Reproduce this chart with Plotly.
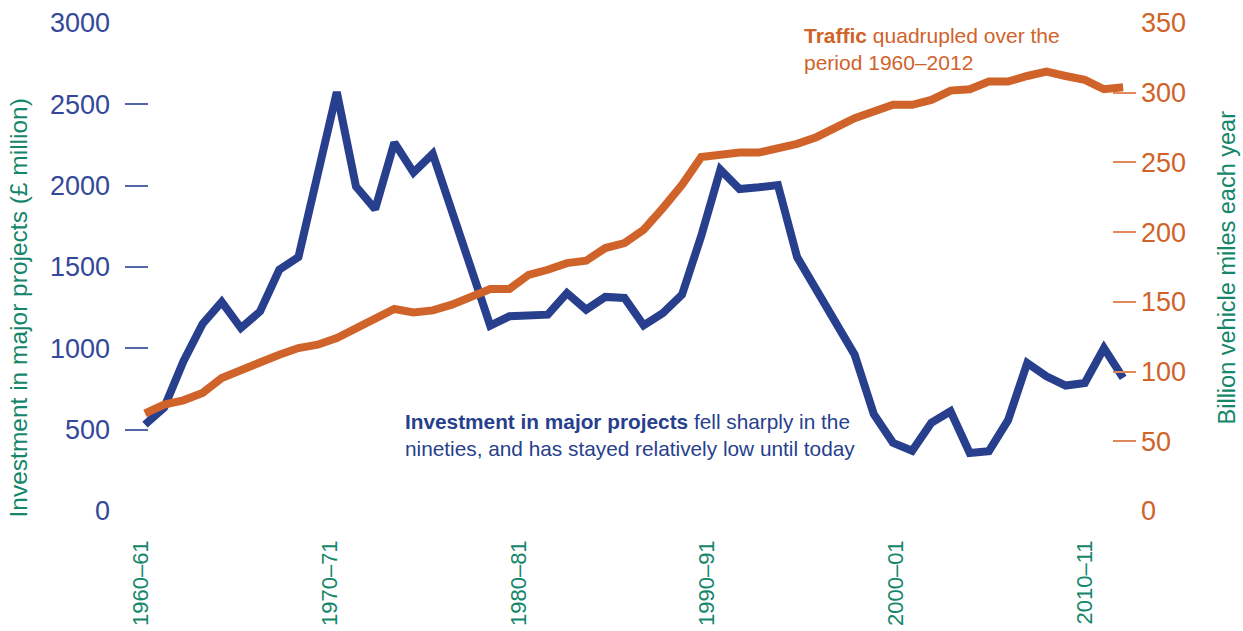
import plotly.graph_objects as go

# Financial years 1960-61 .. 2011-12 (start year)
years = list(range(1960, 2012))

investment = [531, 636, 920, 1150, 1285, 1125, 1227, 1483, 1561, 2087,
              2575, 1995, 1856, 2265, 2081, 2196, 1846, 1496, 1140, 1197,
              1202, 1207, 1340, 1238, 1316, 1310, 1141, 1217, 1330, 1690,
              2098, 1979, 1990, 2004, 1561, 1361, 1161, 961, 595, 419,
              370, 542, 613, 357, 368, 558, 910, 828, 771, 787,
              1002, 818]

traffic = [70.0, 76.3, 79.4, 84.7, 95.4, 101.4, 107.3, 112.1, 116.9, 119.3,
           124.1, 131.3, 137.2, 144.9, 142.4, 143.9, 148.0, 154.0, 159.2, 159.2,
           169.4, 173.0, 177.8, 179.5, 188.6, 192.2, 201.7, 217.2, 233.9, 253.8,
           256.1, 257.1, 257.1, 260.2, 263.3, 268.1, 275.7, 281.7, 286.5, 291.3,
           291.3, 294.8, 301.5, 302.5, 308.0, 308.0, 312.0, 315.1, 312.0, 309.2,
           302.5, 303.9]

tick_labels = ["1960–61", "1970–71", "1980–81", "1990–91", "2000–01", "2010–11"]
tick_positions = [1959.8, 1969.64, 1979.48, 1989.32, 1999.16, 2009.0]

left_ticks = [0, 500, 1000, 1500, 2000, 2500, 3000]
right_ticks = [0, 50, 100, 150, 200, 250, 300, 350]

BLUE = "#273f8c"
ORANGE = "#d0632a"
GREEN = "#14866a"
FONT = "Liberation Sans"

fig = go.Figure()
fig.add_trace(go.Scatter(x=years, y=traffic, yaxis="y2", mode="lines",
                         line=dict(color=ORANGE, width=8), name="Traffic",
                         hoverinfo="x+y"))
fig.add_trace(go.Scatter(x=years, y=investment, yaxis="y", mode="lines",
                         line=dict(color=BLUE, width=8), name="Investment",
                         hoverinfo="x+y"))

fig.update_layout(
    width=1243, height=631,
    margin=dict(l=125, r=107, t=22.5, b=119.5, pad=0),
    paper_bgcolor="white", plot_bgcolor="white",
    showlegend=False,
    font=dict(family=FONT),
    xaxis=dict(range=[1958.957, 2011.67], tickmode="array",
               tickvals=tick_positions, ticktext=tick_labels,
               tickangle=-90, showgrid=False, zeroline=False, showline=False,
               ticks="", ticklabelstandoff=24, automargin=False,
               tickfont=dict(family=FONT, size=22, color=GREEN)),
    yaxis=dict(range=[0, 3000], tickmode="array", tickvals=left_ticks,
               showgrid=False, zeroline=False, showline=False,
               ticks="inside", ticklen=23, tickwidth=1.5, tickcolor="#5467a6",
               ticklabelstandoff=14, automargin=False,
               tickfont=dict(family=FONT, size=27, color="#34489a")),
    yaxis2=dict(range=[0, 350], overlaying="y", side="right", tickmode="array",
                tickvals=right_ticks,
                showgrid=False, zeroline=False, showline=False,
                ticks="inside", ticklen=23, tickwidth=1.5, tickcolor="#e08a5c",
                ticklabelstandoff=4, automargin=False,
                tickfont=dict(family=FONT, size=27, color=ORANGE)),
    annotations=[
        dict(text="Investment in major projects (£ million)", textangle=-90,
             xref="paper", yref="paper", x=-0.1058, y=0.4151,
             xanchor="center", yanchor="middle", showarrow=False,
             font=dict(family=FONT, size=24.5, color=GREEN)),
        dict(text="Billion vehicle miles each year", textangle=-90,
             xref="paper", yref="paper", x=1.090, y=0.499,
             xanchor="center", yanchor="middle", showarrow=False,
             font=dict(family=FONT, size=23.5, color=GREEN)),
        dict(text="<b>Traffic</b> quadrupled over the<br>period 1960–2012",
             xref="paper", yref="paper", x=0.6696, y=0.9468,
             xanchor="left", yanchor="middle", align="left", showarrow=False,
             font=dict(family=FONT, size=21, color=ORANGE)),
        dict(text="<b>Investment in major projects</b> fell sharply in the<br>nineties, and has stayed relatively low until today",
             xref="paper", yref="paper", x=0.275, y=0.1564,
             xanchor="left", yanchor="middle", align="left", showarrow=False,
             font=dict(family=FONT, size=20.8, color=BLUE)),
    ],
)

fig.write_html("out.html", config={"displayModeBar": False},
               post_script="document.body.style.margin='0';")
